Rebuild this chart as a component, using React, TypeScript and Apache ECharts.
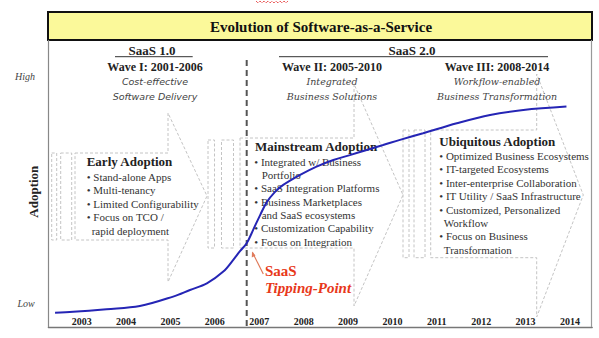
import React, { useEffect, useRef } from "react";
import * as echarts from "echarts";

// curve: year position vs. adoption level (0 = low, 100 = top of plot)
const years = [2002.4, 2002.81, 2003.56, 2004.31, 2005.06, 2005.44, 2005.82, 2006.19, 2006.41, 2006.57, 2006.72, 2006.87, 2007.02, 2007.17, 2007.35, 2007.54, 2007.92, 2008.29, 2008.67, 2009.04, 2009.42, 2009.79, 2010.17, 2010.69, 2011.45, 2012.2, 2012.95, 2013.92];
const adoption = [5.0, 5.3, 6.2, 7.3, 10.6, 12.9, 15.2, 19.3, 23.3, 26.5, 29.3, 34.1, 39.0, 43.5, 47.0, 49.5, 53.0, 55.9, 58.2, 59.9, 61.7, 63.4, 65.2, 67.5, 71.0, 73.9, 75.6, 76.8];
const yearTicks = [2003, 2004, 2005, 2006, 2007, 2008, 2009, 2010, 2011, 2012, 2013, 2014];

const chartTitle = "Evolution of Software-as-a-Service";
const earlyItems = ["• Stand-alone Apps", "• Multi-tenancy", "• Limited Configurability", "• Focus on TCO /", "rapid deployment"];
const mainstreamItems = ["• Integrated w/ Business", "Portfolio", "• SaaS Integration Platforms", "• Business Marketplaces", "and SaaS ecosystems", "• Customization Capability", "• Focus on Integration"];
const ubiquitousItems = ["• Optimized Business Ecosystems", "• IT-targeted Ecosystems", "• Inter-enterprise Collaboration", "• IT Utility / SaaS Infrastructure", "• Customized, Personalized", "Workflow", "• Focus on Business", "Transformation"];

const SERIF = '"Liberation Serif", "Times New Roman", serif';

function txt(text: string, x: number, y: number, font: string, fill = "#333", align = "left", extra: any = {}) {
  return {
    type: "text",
    x,
    y,
    z: 3,
    style: { text, font, fill, textAlign: align, textVerticalAlign: "middle" },
    ...extra,
  };
}

function dashedPoly(points: number[][]) {
  return {
    type: "polygon",
    z: 1,
    shape: { points },
    style: { fill: "rgba(0,0,0,0)", stroke: "#c4c4c4", lineWidth: 1, lineDash: [3, 2] },
  };
}

function dashedRect(x1: number, y1: number, x2: number, y2: number) {
  return {
    type: "rect",
    z: 1,
    shape: { x: x1, y: y1, width: x2 - x1, height: y2 - y1 },
    style: { fill: "rgba(0,0,0,0)", stroke: "#c4c4c4", lineWidth: 1, lineDash: [3, 2] },
  };
}

function bulletList(items: string[], x: number, y0: number, indent: number, step: number) {
  return items.map((t, i) =>
    txt(t, t.startsWith("•") ? x : x + indent, y0 + i * step, `11px ${SERIF}`, "#333")
  );
}

export default function App() {
  const ref = useRef<HTMLDivElement>(null);

  useEffect(() => {
    if (!ref.current) return;
    const chart = echarts.init(ref.current, null, { renderer: "svg" });

    const squiggle: number[][] = [];
    for (let x = 256; x <= 289; x += 2) squiggle.push([x, (x - 256) % 4 === 0 ? 1 : 3]);

    const graphics: any[] = [
      // red spell-check squiggle
      { type: "polyline", z: 3, shape: { points: squiggle }, style: { stroke: "#e01010", lineWidth: 1, fill: null, lineDash: [1, 1] } },
      // title bar
      { type: "rect", z: 2, shape: { x: 48, y: 12, width: 544, height: 28 }, style: { fill: "#fbf99a", stroke: "#111", lineWidth: 2 } },
      txt(chartTitle, 321, 26.5, `bold 15px ${SERIF}`, "#111", "center"),
      // frame sides
      { type: "line", z: 2, shape: { x1: 48.5, y1: 40, x2: 48.5, y2: 327 }, style: { stroke: "#888", lineWidth: 1.2 } },
      { type: "line", z: 2, shape: { x1: 591.5, y1: 40, x2: 591.5, y2: 327 }, style: { stroke: "#999", lineWidth: 1.2 } },

      // background chevrons (left)
      dashedRect(51.7, 153, 56.7, 240),
      dashedRect(60.7, 153, 71.7, 240),
      dashedPoly([[75, 153], [168, 153], [168, 113], [207, 196], [168, 282], [168, 240], [75, 240]]),
      // middle
      dashedRect(208, 140, 214.5, 248),
      dashedRect(221.5, 140, 233.5, 248),
      dashedPoly([[240, 138], [354, 138], [354, 84], [403, 195], [354, 306], [354, 248], [240, 248]]),
      // right
      dashedRect(403, 130, 409, 257.7),
      dashedRect(414, 130, 425, 257.7),
      dashedPoly([[430.7, 130], [536.7, 130], [536.7, 74], [583.3, 195], [536.7, 317], [536.7, 257.7], [430.7, 257.7]]),

      // divider
      { type: "line", z: 2, shape: { x1: 246.7, y1: 60, x2: 246.7, y2: 327 }, style: { stroke: "#555", lineWidth: 2, lineDash: [6, 4] } },

      // headers
      txt("SaaS 1.0", 152, 50, `bold 13px ${SERIF}`, "#222", "center"),
      { type: "line", z: 2, shape: { x1: 115, y1: 56.7, x2: 192.7, y2: 56.7 }, style: { stroke: "#333", lineWidth: 1 } },
      txt("Wave I: 2001-2006", 155, 66.7, `bold 12px ${SERIF}`, "#222", "center"),
      txt("Cost-effective", 155, 81, 'italic 9.5px "DejaVu Sans", sans-serif', "#444", "center"),
      txt("Software Delivery", 155, 96.5, 'italic 9.5px "DejaVu Sans", sans-serif', "#444", "center"),

      txt("SaaS 2.0", 412, 50, `bold 13px ${SERIF}`, "#222", "center"),
      { type: "line", z: 2, shape: { x1: 279, y1: 56.7, x2: 548, y2: 56.7 }, style: { stroke: "#333", lineWidth: 1 } },
      txt("Wave II: 2005-2010", 332, 66.7, `bold 12px ${SERIF}`, "#222", "center"),
      txt("Integrated", 332, 81, 'italic 9.5px "DejaVu Serif", serif', "#444", "center"),
      txt("Business Solutions", 332, 96.5, 'italic 9.5px "DejaVu Serif", serif', "#444", "center"),
      txt("Wave III: 2008-2014", 497, 66.7, `bold 12px ${SERIF}`, "#222", "center"),
      txt("Workflow-enabled", 497, 81, 'italic 9.5px "DejaVu Serif", serif', "#444", "center"),
      txt("Business Transformation", 497, 96.5, 'italic 9.5px "DejaVu Serif", serif', "#444", "center"),

      // axis words
      txt("High", 25, 76, `italic 10px ${SERIF}`, "#444", "center"),
      txt("Low", 26, 303.3, `italic 10px ${SERIF}`, "#444", "center"),
      txt("Adoption", 33.5, 191.7, `bold 13px ${SERIF}`, "#222", "center", { rotation: Math.PI / 2 }),

      // boxes
      txt("Early Adoption", 86.7, 161.7, `bold 13px ${SERIF}`, "#222"),
      ...bulletList(earlyItems, 86.7, 176.7, 5, 13.5),
      txt("Mainstream Adoption", 255, 146.7, `bold 13px ${SERIF}`, "#222"),
      ...bulletList(mainstreamItems, 254.3, 161.7, 7.4, 13.35),
      txt("Ubiquitous Adoption", 439.3, 141.7, `bold 13px ${SERIF}`, "#222"),
      ...bulletList(ubiquitousItems, 439.3, 156, 4.5, 13.4),

      // tipping point
      { type: "line", z: 3, shape: { x1: 263.3, y1: 274, x2: 252.5, y2: 252.5 }, style: { stroke: "#e07a5a", lineWidth: 1.2 } },
      { type: "polygon", z: 3, shape: { points: [[252, 251.5], [251.8, 257.5], [255.5, 255.6]] }, style: { fill: "#e07a5a" } },
      txt("SaaS", 265, 270.7, `bold 15px ${SERIF}`, "#e8381a"),
      txt("Tipping-Point", 265, 288.3, `italic bold 15px ${SERIF}`, "#e8381a"),
    ];

    chart.setOption({
      animation: false,
      backgroundColor: "#fff",
      grid: { left: 48.4, right: 6.8, top: 40, bottom: 11, containLabel: false },
      xAxis: {
        type: "value",
        min: 2002.25,
        max: 2014.5,
        axisLine: { show: true, lineStyle: { color: "#777", width: 1.4 } },
        axisTick: { show: false },
        splitLine: { show: false },
        axisLabel: {
          customValues: yearTicks,
          inside: true,
          margin: 1,
          formatter: (v: number) => String(v),
          color: "#222",
          fontFamily: SERIF,
          fontWeight: "bold",
          fontSize: 10,
        },
      },
      yAxis: { type: "value", min: 0, max: 100, show: false },
      graphic: { elements: graphics },
      series: [
        {
          type: "line",
          z: 5,
          data: years.map((y, i) => [y, adoption[i]]),
          smooth: 0.35,
          symbol: "none",
          lineStyle: { color: "#2525b5", width: 2 },
        },
      ],
    });

    return () => chart.dispose();
  }, []);

  return (
    <div
      ref={ref}
      style={{ position: "fixed", left: 0, top: 0, width: 599, height: 338, background: "#fff" }}
    />
  );
}
